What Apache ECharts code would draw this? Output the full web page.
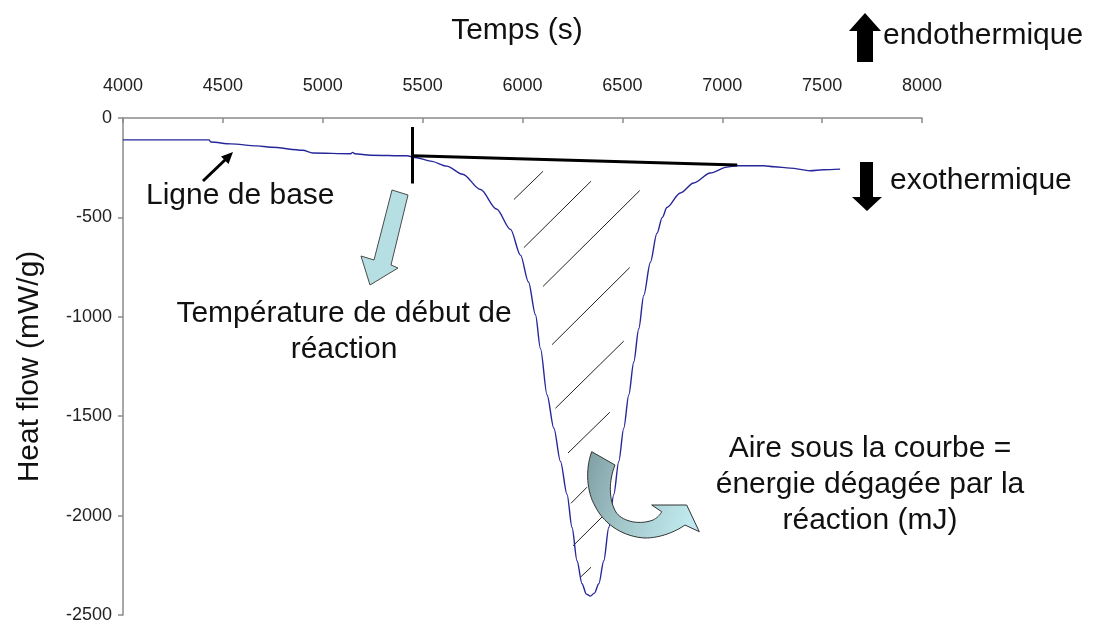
<!DOCTYPE html>
<html>
<head>
<meta charset="utf-8">
<title>Heat flow</title>
<script src="https://cdn.jsdelivr.net/npm/echarts@6/dist/echarts.min.js"></script>
<style>
  html, body { margin: 0; padding: 0; background: #ffffff; }
  #chart { width: 1093px; height: 624px; }
</style>
</head>
<body>
<div id="chart"></div>
<script>
// Time axis (s) and heat-flow axis (mW/g)
const timeTicks = [4000, 8000, 500];
const flowTicks = [-2500, 0, 500];

// DSC trace: [time (s), heat flow (mW/g)]
const heatFlow = [
  [4000, -110], [4430, -110], [4440, -121], [4540, -130], [4670, -140],
  [4740, -147], [4900, -162], [4950, -176], [5140, -180], [5150, -173],
  [5160, -180], [5240, -187], [5420, -190], [5470, -200], [5540, -217],
  [5620, -242], [5700, -283], [5790, -360], [5870, -458], [5940, -560],
  [5990, -690], [6030, -825], [6065, -990], [6090, -1160], [6123, -1393],
  [6157, -1560], [6190, -1727], [6223, -1893], [6248, -2060], [6273, -2227],
  [6298, -2343], [6320, -2395], [6340, -2405], [6360, -2390], [6382, -2343],
  [6407, -2227], [6432, -2060], [6457, -1893], [6482, -1727], [6507, -1560],
  [6532, -1393], [6557, -1227], [6582, -1060], [6607, -893], [6640, -727],
  [6673, -580], [6700, -500], [6723, -450], [6790, -377], [6857, -327],
  [6940, -277], [7023, -247], [7073, -240], [7207, -240], [7260, -245],
  [7340, -252], [7440, -265], [7507, -260], [7590, -257]
];

// Onset marker and the baseline drawn under the peak
const onsetMarker = [[5450, -45], [5450, -330]];
const peakBaseline = [[5450, -190], [7075, -236]];

// Hatching of the area between the peak and its baseline
const hatchSegments = [
  [[5957, -410], [6103, -268]],
  [[6007, -652], [6343, -318]],
  [[6103, -847], [6587, -365]],
  [[6148, -1140], [6537, -752]],
  [[6165, -1460], [6507, -1122]],
  [[6228, -1685], [6437, -1480]],
  [[6243, -1938], [6323, -1857]],
  [[6253, -2152], [6398, -2007]],
  [[6290, -2310], [6343, -2260]]
];

const FONT = '"Liberation Sans", Arial, sans-serif';
const chart = echarts.init(document.getElementById('chart'), null, { renderer: 'canvas' });

function txt(text, x, y, align) {
  return {
    type: 'text', z: 100,
    style: {
      text: text, x: x, y: y,
      align: align || 'left', verticalAlign: 'middle',
      font: '30px ' + FONT, fill: '#111', lineHeight: 36
    }
  };
}

// Outline built from straight pieces and cubic curves: each step is
// either [x, y] (line to) or [c1x, c1y, c2x, c2y, x, y] (curve to).
function outline(start, steps) {
  const pts = [start.slice()];
  let cur = start;
  steps.forEach(s => {
    if (s.length === 2) {
      pts.push(s.slice());
      cur = s;
    } else {
      const p0 = cur, c1 = [s[0], s[1]], c2 = [s[2], s[3]], p3 = [s[4], s[5]];
      for (let i = 1; i <= 16; i++) {
        const t = i / 16, u = 1 - t;
        pts.push([
          u * u * u * p0[0] + 3 * u * u * t * c1[0] + 3 * u * t * t * c2[0] + t * t * t * p3[0],
          u * u * u * p0[1] + 3 * u * u * t * c1[1] + 3 * u * t * t * c2[1] + t * t * t * p3[1]
        ]);
      }
      cur = p3;
    }
  });
  return pts;
}

const curvedArrow = outline([591.7, 451.7], [
  [615, 465],
  [609, 480, 608, 500, 616.7, 513.3],
  [624, 522, 640, 525, 653, 520],
  [657, 518, 660, 515, 661.7, 511.7],
  [651.7, 505], [686.7, 505], [699.3, 531.7], [685, 525],
  [675, 532, 660, 538, 645, 538],
  [625, 537, 605, 526, 595, 506],
  [587, 492, 585, 470, 591.7, 451.7]
]);

const lightArrowFill = '#b6dfe3';
const plainNumber = v => String(v);

chart.setOption({
  animation: false,
  backgroundColor: '#ffffff',
  grid: { left: 123, right: 171, top: 118, bottom: 6, containLabel: false },
  xAxis: {
    type: 'value', position: 'top',
    min: timeTicks[0], max: timeTicks[1], interval: timeTicks[2],
    axisLine: { onZero: false, lineStyle: { color: '#8a8a8a', width: 1.5 } },
    axisTick: { inside: true, length: 5, lineStyle: { color: '#8a8a8a', width: 1.5 } },
    axisLabel: { margin: 23, fontSize: 18, color: '#222', fontFamily: FONT, formatter: plainNumber },
    splitLine: { show: false }
  },
  yAxis: {
    type: 'value',
    min: flowTicks[0], max: flowTicks[1], interval: flowTicks[2],
    name: 'Heat flow (mW/g)', nameLocation: 'middle', nameRotate: 90, nameGap: 78,
    nameTextStyle: { fontSize: 30, color: '#111', fontFamily: FONT },
    axisLine: { onZero: false, lineStyle: { color: '#8a8a8a', width: 1.5 } },
    axisTick: { inside: false, length: 5, lineStyle: { color: '#8a8a8a', width: 1.5 } },
    axisLabel: { margin: 11, fontSize: 18, color: '#222', fontFamily: FONT, formatter: plainNumber },
    splitLine: { show: false }
  },
  series: [
    {
      type: 'lines', coordinateSystem: 'cartesian2d', silent: true, z: 3,
      lineStyle: { color: '#222', width: 1, opacity: 1 },
      data: hatchSegments.map(s => ({ coords: s }))
    },
    {
      type: 'line', data: heatFlow, showSymbol: false, z: 4,
      smooth: 0.3, smoothMonotone: 'x',
      lineStyle: { color: '#26269a', width: 1.4 }
    },
    {
      type: 'lines', coordinateSystem: 'cartesian2d', silent: true, z: 5,
      lineStyle: { color: '#000', width: 3, opacity: 1 },
      data: [{ coords: onsetMarker }, { coords: peakBaseline }]
    }
  ],
  graphic: [
    // axis title
    txt('Temps (s)', 517, 31, 'center'),
    // direction labels with block arrows
    txt('endothermique', 883, 36),
    txt('exothermique', 890, 181),
    {
      type: 'polygon', z: 100,
      shape: { points: [[865, 13], [881, 31], [873, 31], [873, 62], [857, 62], [857, 31], [849, 31]] },
      style: { fill: '#000' }
    },
    {
      type: 'polygon', z: 100,
      shape: { points: [[860, 162], [873, 162], [873, 197], [882, 197], [867, 211], [852, 197], [860, 197]] },
      style: { fill: '#000' }
    },
    // baseline callout
    txt('Ligne de base', 146, 196),
    {
      type: 'line', z: 100,
      shape: { x1: 203, y1: 181, x2: 226, y2: 159 },
      style: { stroke: '#000', lineWidth: 3 }
    },
    {
      type: 'polygon', z: 100,
      shape: { points: [[233, 152], [228.5, 164], [221, 156.5]] },
      style: { fill: '#000' }
    },
    // onset callout
    txt('Température de début de\nréaction', 344, 332, 'center'),
    {
      type: 'polygon', z: 100,
      shape: { points: [[392, 190], [408, 195], [391, 265], [398, 268], [370, 285], [361, 256], [374, 260]] },
      style: { fill: lightArrowFill, stroke: '#4a4a4a', lineWidth: 1 }
    },
    // area callout
    txt('Aire sous la courbe =\nénergie dégagée par la\nréaction (mJ)', 870, 485, 'center'),
    {
      type: 'polygon', z: 100,
      shape: { points: curvedArrow },
      style: {
        fill: new echarts.graphic.LinearGradient(0, 0, 1, 0.4, [
          { offset: 0, color: '#7f9ea3' },
          { offset: 0.45, color: '#a2c6ca' },
          { offset: 1, color: '#bfe9ee' }
        ]),
        stroke: '#333', lineWidth: 1
      }
    }
  ]
});
</script>
</body>
</html>
